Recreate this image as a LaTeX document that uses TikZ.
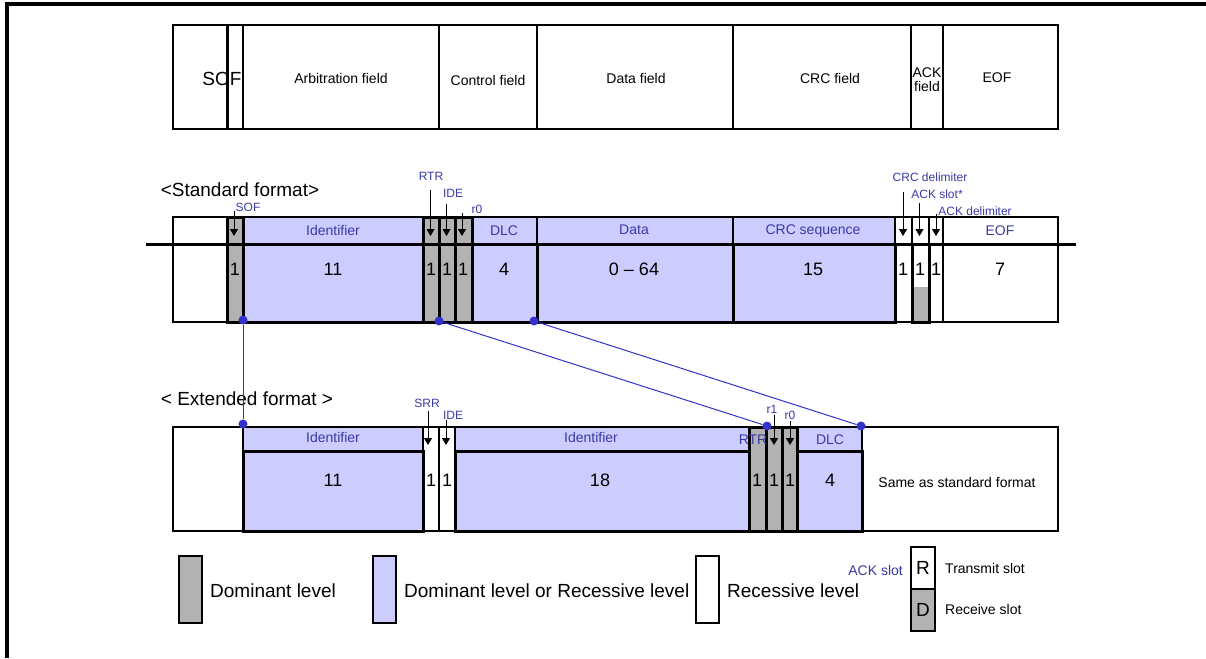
\documentclass[tikz,border=0pt]{standalone}
\usepackage{fontspec}
\setmainfont{Liberation Sans}
\usetikzlibrary{fit,arrows.meta}
\definecolor{lav}{RGB}{204,204,255}
\definecolor{dgr}{RGB}{178,178,178}
\definecolor{lblue}{RGB}{58,58,165}
\definecolor{cblue}{RGB}{51,51,204}
\newcommand{\cellnode}[6]{\node[#6,fit={(#2,#3)(#4,#5)}] (#1) {};}
\begin{document}
\begin{tikzpicture}[x=1pt,y=-1pt,
  cell/.style={draw, inner sep=0pt, outer sep=0pt, line width=1.2pt},
  thk/.style={draw, inner sep=0pt, outer sep=0pt, line width=3pt},
  lavc/.style={cell, fill=lav},
  lavt/.style={thk, fill=lav},
  gryt/.style={thk, fill=dgr},
  grf/.style={fill=dgr, inner sep=0pt, outer sep=0pt},
  leg/.style={draw, inner sep=0pt, outer sep=0pt, line width=1.4pt},
  ttl/.style={font=\fontsize{14}{14}\selectfont, inner sep=0pt},
  hdr/.style={text=lblue, font=\fontsize{14}{16}\selectfont, inner sep=0pt},
  num/.style={font=\fontsize{18}{20}\selectfont, inner sep=0pt},
  sml/.style={text=lblue, font=\fontsize{12}{13}\selectfont, inner sep=0pt},
  big/.style={font=\fontsize{19}{21}\selectfont, inner sep=0pt},
  pin/.style={line width=0.9pt, -{Triangle[width=8pt,length=7pt]}},
  dot/.style={circle, fill=cblue, inner sep=0pt, minimum size=9pt},
  conn/.style={draw=cblue, line width=1pt}
]
\useasboundingbox (0,0) rectangle (1206,658);
% frame
\coordinate (fBL) at (7,658);
\coordinate (fTL) at (7,4);
\coordinate (fTR) at (1206,4);
\draw[line width=3.5pt] (fBL) -- (fTL) -- (fTR);

% ---------------- top row ----------------
\cellnode{tA}{173}{25}{227}{129}{cell}
\cellnode{tB}{227}{25}{243}{129}{cell}
\cellnode{tArb}{243}{25}{439}{129}{cell}
\cellnode{tCtl}{439}{25}{537}{129}{cell}
\cellnode{tDat}{537}{25}{733}{129}{cell}
\cellnode{tCrc}{733}{25}{911}{129}{cell}
\cellnode{tAck}{911}{25}{943}{129}{cell}
\cellnode{tEof}{943}{25}{1058}{129}{cell}
\draw[line width=3pt] (tA.north east) -- (tA.south east);
\node[big] (tSOF) at (222,79) {SOF};
\node[ttl] (tArbT) at (341,78) {Arbitration field};
\node[ttl] (tCtlT) at (488,80) {Control field};
\node[ttl] (tDatT) at (636,78) {Data field};
\node[ttl] (tCrcT) at (830,78) {CRC field};
\node[ttl, align=center] (tAckT) at (927,80) {ACK\\field};
\node[ttl] (tEofT) at (997,78) {EOF};

% ---------------- standard format ----------------
\node[big] (stdT) at (240,190) {<Standard format>};
\cellnode{sL}{173}{217}{227}{322}{cell}
\cellnode{sIdH}{243}{217}{423}{244}{lavc}
\cellnode{sDlcH}{472}{217}{537}{244}{lavc}
\cellnode{sDatH}{537}{217}{733}{244}{lavc}
\cellnode{sCrcH}{733}{217}{895}{244}{lavc}
\cellnode{sCd}{895}{217}{912}{322}{cell}
\cellnode{sAs}{912}{217}{929}{322}{cell}
\cellnode{sAd}{929}{217}{943}{322}{cell}
\cellnode{sEofH}{943}{217}{1058}{244}{cell}
\cellnode{sEofB}{943}{244}{1058}{322}{cell}
\cellnode{sIdB}{243}{244}{423}{322}{lavt}
\cellnode{sDlcB}{472}{244}{537}{322}{lavt}
\cellnode{sDatB}{537}{244}{733}{322}{lavt}
\cellnode{sCrcB}{733}{244}{895}{322}{lavt}
\cellnode{sSof}{227}{217}{243}{322}{gryt}
\cellnode{sRtr}{423}{217}{439}{322}{gryt}
\cellnode{sIde}{439}{217}{455}{322}{gryt}
\cellnode{sR0}{455}{217}{472}{322}{gryt}
\cellnode{sAsG}{912}{287}{929}{322}{grf}
\cellnode{sAsB}{912}{244}{929}{322}{thk}
\coordinate (busL) at (146,244);
\coordinate (busR) at (1076,244);
\draw[line width=3pt] (busL) -- (busR);

\node[hdr] (sIdT) at (333,230) {Identifier};
\node[hdr] (sDlcT) at (504,231) {DLC};
\node[hdr] (sDatT) at (634,230) {Data};
\node[hdr] (sCrcT) at (813,231) {CRC sequence};
\node[hdr] (sEofT) at (1000,231) {EOF};

\node[num] (sN1) at (235,269) {1};
\node[num] (sN2) at (333,269) {11};
\node[num] (sN3) at (431,269) {1};
\node[num] (sN4) at (447,269) {1};
\node[num] (sN5) at (463,269) {1};
\node[num] (sN6) at (504,269) {4};
\node[num] (sN7) at (634,269) {0 -- 64};
\node[num] (sN8) at (813,269) {15};
\node[num] (sN9) at (903,269) {1};
\node[num] (sN10) at (920,269) {1};
\node[num] (sN11) at (936,269) {1};
\node[num] (sN12) at (1000,269) {7};

\node[sml] (lSOF) at (248,207) {SOF};
\node[sml] (lRTR) at (431,176) {RTR};
\node[sml] (lIDE) at (453,193) {IDE};
\node[sml] (lR0) at (477,209) {r0};
\node[sml] (lCd) at (930,177) {CRC delimiter};
\node[sml] (lAs) at (937,194) {ACK slot*};
\node[sml] (lAd) at (975,211) {ACK delimiter};
\coordinate (aSOFs) at (234,211); \coordinate (aSOFe) at (234,236);
\coordinate (aRTRs) at (430.5,190); \coordinate (aRTRe) at (430.5,236);
\coordinate (aIDEs) at (446.5,204); \coordinate (aIDEe) at (446.5,236);
\coordinate (aR0s) at (462,213); \coordinate (aR0e) at (462,236);
\coordinate (aCds) at (903,192); \coordinate (aCde) at (903,236);
\coordinate (aAss) at (919.5,203); \coordinate (aAse) at (919.5,236);
\coordinate (aAds) at (936,214); \coordinate (aAde) at (936,236);
\foreach \a in {SOF,RTR,IDE,R0,Cd,As,Ad} {\draw[pin] (a\a s) -- (a\a e);}

% ---------------- extended format ----------------
\node[big] (extT) at (247,399) {< Extended format >};
\cellnode{eL}{173}{427}{243}{531}{cell}
\cellnode{eIdH}{243}{427}{423}{451}{lavc}
\cellnode{eSrr}{423}{427}{439}{531}{cell}
\cellnode{eIde}{439}{427}{455}{531}{cell}
\cellnode{eId2H}{455}{427}{749}{451}{lavc}
\cellnode{eDlcH}{797}{427}{862}{451}{lavc}
\cellnode{eSame}{862}{427}{1058}{531}{cell}
\cellnode{eIdB}{243}{451}{423}{531}{lavt}
\cellnode{eId2B}{455}{451}{749}{531}{lavt}
\cellnode{eDlcB}{797}{451}{862}{531}{lavt}
\cellnode{eRtr}{749}{427}{766}{531}{gryt}
\cellnode{eR1}{766}{427}{782}{531}{gryt}
\cellnode{eR0}{782}{427}{797}{531}{gryt}

\node[hdr] (eIdT) at (333,437) {Identifier};
\node[hdr] (eId2T) at (591,437) {Identifier};
\node[hdr] (eRtrT) at (753,440) {RTR};
\node[hdr] (eDlcT) at (830,440) {DLC};
\node[ttl] (eSameT) at (957,482) {Same as standard format};

\node[num] (eN1) at (333,480) {11};
\node[num] (eN2) at (431,480) {1};
\node[num] (eN3) at (447,480) {1};
\node[num] (eN4) at (600,480) {18};
\node[num] (eN5) at (757,480) {1};
\node[num] (eN6) at (774,480) {1};
\node[num] (eN7) at (790,480) {1};
\node[num] (eN8) at (830,480) {4};

\node[sml] (lSRR) at (427,403) {SRR};
\node[sml] (lEIDE) at (453,415) {IDE};
\node[sml] (lR1) at (772,409) {r1};
\node[sml] (lER0) at (790,415) {r0};
\coordinate (bSRRs) at (428,411); \coordinate (bSRRe) at (428,445);
\coordinate (bIDEs) at (446,420); \coordinate (bIDEe) at (446,445);
\coordinate (bR1s) at (774,415); \coordinate (bR1e) at (774,445);
\coordinate (bR0s) at (790,421); \coordinate (bR0e) at (790,445);
\foreach \a in {SRR,IDE,R1,R0} {\draw[pin] (b\a s) -- (b\a e);}

% connectors
\node[dot] (d1) at (243,320) {};
\node[dot] (d2) at (243,424) {};
\node[dot] (d3) at (439,321) {};
\node[dot] (d4) at (767,426) {};
\node[dot] (d5) at (534,321) {};
\node[dot] (d6) at (861,426) {};
\draw[conn] (d1) -- (d2);
\draw[conn] (d3) -- (d4);
\draw[conn] (d5) -- (d6);

% ---------------- legend ----------------
\cellnode{kG}{179}{556}{202}{623}{leg, fill=dgr}
\node[big, anchor=west] (kGT) at (210,591) {Dominant level};
\cellnode{kL}{373}{556}{396}{623}{leg, fill=lav}
\node[big, anchor=west] (kLT) at (404,591) {Dominant level or Recessive level};
\cellnode{kW}{696}{556}{719}{623}{leg}
\node[big, anchor=west] (kWT) at (727,591) {Recessive level};
\node[hdr, anchor=east] (kAck) at (903,570) {ACK slot};
\cellnode{kR}{911}{547}{935}{589}{leg}
\cellnode{kD}{911}{589}{935}{631}{leg, fill=dgr}
\node[big] (kRT) at (923,568) {R};
\node[big] (kDT) at (923,610) {D};
\node[ttl, anchor=west] (kRL) at (945,568) {Transmit slot};
\node[ttl, anchor=west] (kDL) at (945,609) {Receive slot};
\end{tikzpicture}
\end{document}
